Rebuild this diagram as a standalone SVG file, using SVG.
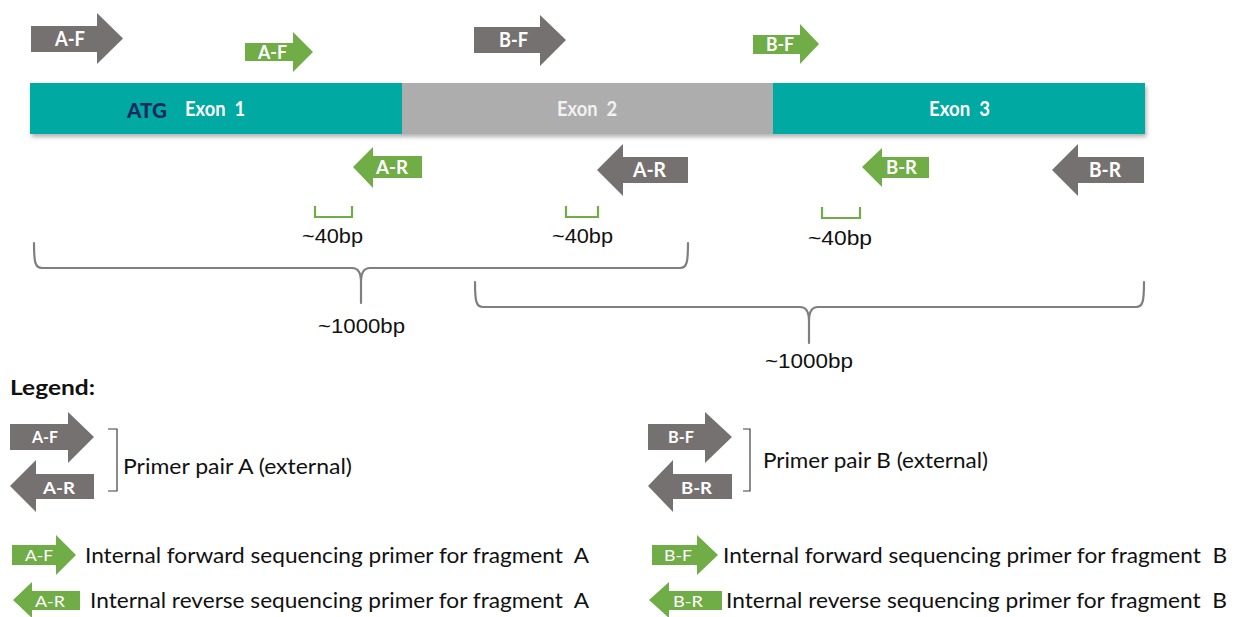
<svg xmlns="http://www.w3.org/2000/svg" width="1238" height="617" viewBox="0 0 1238 617">
  <style>
    .ext { fill: #767171; }
    .int { fill: #70AD47; }
    .lbl { font-family: Lato, "Open Sans", sans-serif; font-weight: bold; fill: #FFFFFF; }
    .lbl-s { font-family: Lato, "Open Sans", sans-serif; fill: #FFFFFF; font-size: 16px; }
    .exon-t { font-family: Lato, "Open Sans", sans-serif; font-weight: bold; font-size: 20px; fill: #FFFFFF; white-space: pre; }
    .bp { font-family: "Liberation Sans", Arial, sans-serif; fill: #111111; }
    .brace { fill: none; stroke: #7F7F7F; stroke-width: 2.2; stroke-linecap: round; }
    .gap { fill: none; stroke: #70AD47; stroke-width: 2.2; }
    .leg { font-family: Lato, "Open Sans", sans-serif; font-size: 21px; fill: #111111; white-space: pre; }
    .pairb { fill: none; stroke: #404040; stroke-width: 1.2; }
  </style>
  <defs>
    <filter id="shadow" x="-5%" y="-30%" width="110%" height="170%">
      <feDropShadow dx="1.5" dy="3" stdDeviation="2" flood-color="#000000" flood-opacity="0.3"/>
    </filter>
  </defs>

  <rect width="1238" height="617" fill="#FFFFFF"/>

  <!-- gene: three exons -->
  <g id="gene" filter="url(#shadow)">
    <rect id="exon1" x="30" y="83" width="372" height="51" fill="#00A9A2"/>
    <rect id="exon2" x="402" y="83" width="371" height="51" fill="#ADADAD"/>
    <rect id="exon3" x="773" y="83" width="372" height="51" fill="#00A9A2"/>
  </g>
  <g id="exon-labels">
    <text x="127" y="118" font-family="Lato, 'Open Sans', sans-serif" font-weight="900" font-size="21" fill="#1B2A5E" textLength="40" lengthAdjust="spacingAndGlyphs">ATG</text>
    <text class="exon-t" x="185" y="116" textLength="60" lengthAdjust="spacingAndGlyphs">Exon  1</text>
    <text class="exon-t" x="557" y="116" textLength="60" lengthAdjust="spacingAndGlyphs" style="fill:#F2F2F2">Exon  2</text>
    <text class="exon-t" x="929" y="116" textLength="61" lengthAdjust="spacingAndGlyphs">Exon  3</text>
  </g>

  <!-- primers on the gene -->
  <g id="primer-AF-ext">
    <polygon class="ext" points="31,26 97,26 97,13 123,38.5 97,64 97,52 31,52"/>
    <text class="lbl" x="55" y="46" font-size="20" textLength="30" lengthAdjust="spacingAndGlyphs">A-F</text>
  </g>
  <g id="primer-AF-int">
    <polygon class="int" points="245,43 293,43 293,32 313,52 293,72 293,61 245,61"/>
    <text class="lbl" x="258" y="59" font-size="19" textLength="29" lengthAdjust="spacingAndGlyphs">A-F</text>
  </g>
  <g id="primer-BF-ext">
    <polygon class="ext" points="474,27 540,27 540,15 566,40 540,66 540,53 474,53"/>
    <text class="lbl" x="499" y="47" font-size="20" textLength="29" lengthAdjust="spacingAndGlyphs">B-F</text>
  </g>
  <g id="primer-BF-int">
    <polygon class="int" points="753,35 800,35 800,24 819,44 800,64 800,54 753,54"/>
    <text class="lbl" x="766" y="51" font-size="19" textLength="28" lengthAdjust="spacingAndGlyphs">B-F</text>
  </g>
  <g id="primer-AR-int">
    <polygon class="int" points="353,167 373,147 373,156 422,156 422,178 373,178 373,188"/>
    <text class="lbl" x="376" y="174" font-size="19" textLength="32" lengthAdjust="spacingAndGlyphs">A-R</text>
  </g>
  <g id="primer-AR-ext">
    <polygon class="ext" points="597,170 623,144 623,157 688,157 688,183 623,183 623,196"/>
    <text class="lbl" x="633" y="177" font-size="20" textLength="33" lengthAdjust="spacingAndGlyphs">A-R</text>
  </g>
  <g id="primer-BR-int">
    <polygon class="int" points="862,167 882,148 882,157 929,157 929,178 882,178 882,187"/>
    <text class="lbl" x="886" y="174" font-size="19" textLength="31" lengthAdjust="spacingAndGlyphs">B-R</text>
  </g>
  <g id="primer-BR-ext">
    <polygon class="ext" points="1052,170 1078,144 1078,157 1144,157 1144,183 1078,183 1078,196"/>
    <text class="lbl" x="1089" y="177" font-size="20" textLength="32" lengthAdjust="spacingAndGlyphs">B-R</text>
  </g>

  <!-- gaps between external and internal primers, and amplicon braces -->
  <g id="connectors">
    <path class="gap" d="M315,206 V217 H352 V206"/>
    <path class="gap" d="M566,206 V217 H598 V206"/>
    <path class="gap" d="M822,207 V218 H860 V207"/>
    <path class="brace" d="M34,243 C34,262 35,268 42,268 H352 C358,268 361,272 361,282 V303 M361,282 C361,272 364,268 370,268 H680 C687,268 688,262 688,243"/>
    <path class="brace" d="M475,282 C475,301 476,307 483,307 H800 C806,307 809,311 809,321 V343 M809,321 C809,311 812,307 818,307 H1136 C1143,307 1144,301 1144,282"/>
  </g>
  <g id="size-labels">
    <text class="bp" x="302" y="243" font-size="20" textLength="61" lengthAdjust="spacingAndGlyphs">~40bp</text>
    <text class="bp" x="552" y="243" font-size="20" textLength="61" lengthAdjust="spacingAndGlyphs">~40bp</text>
    <text class="bp" x="808" y="245" font-size="20" textLength="64" lengthAdjust="spacingAndGlyphs">~40bp</text>
    <text class="bp" x="318" y="333" font-size="21" textLength="87" lengthAdjust="spacingAndGlyphs">~1000bp</text>
    <text class="bp" x="765" y="368" font-size="21" textLength="88" lengthAdjust="spacingAndGlyphs">~1000bp</text>
  </g>

  <!-- legend -->
  <g id="legend">
    <text x="10" y="395" font-family="Lato, 'Open Sans', sans-serif" font-weight="bold" font-size="21" fill="#111111" textLength="85" lengthAdjust="spacingAndGlyphs">Legend:</text>

    <g id="legend-pair-A">
      <polygon class="ext" points="10,424 68,424 68,412 94,437 68,463 68,450 10,450"/>
      <text class="lbl" x="32" y="443" font-size="17" textLength="26" lengthAdjust="spacingAndGlyphs">A-F</text>
      <polygon class="ext" points="10,486 36,460 36,474 94,474 94,499 36,499 36,512"/>
      <text class="lbl" x="43" y="494" font-size="17" textLength="32" lengthAdjust="spacingAndGlyphs">A-R</text>
      <path class="pairb" d="M108,429 H117 V491 H108"/>
      <text class="leg" x="123" y="474" textLength="229" lengthAdjust="spacingAndGlyphs">Primer pair A (external)</text>
    </g>

    <g id="legend-pair-B">
      <polygon class="ext" points="648,424 705,424 705,412 732,437 705,463 705,450 648,450"/>
      <text class="lbl" x="668" y="443" font-size="17" textLength="26" lengthAdjust="spacingAndGlyphs">B-F</text>
      <polygon class="ext" points="648,486 673,460 673,474 732,474 732,499 673,499 673,512"/>
      <text class="lbl" x="681" y="494" font-size="17" textLength="31" lengthAdjust="spacingAndGlyphs">B-R</text>
      <path class="pairb" d="M743,429 H750 V491 H743"/>
      <text class="leg" x="763" y="468" textLength="225" lengthAdjust="spacingAndGlyphs">Primer pair B (external)</text>
    </g>

    <g id="legend-int-AF">
      <polygon class="int" points="12,545 56,545 56,535 76,555 56,575 56,565 12,565"/>
      <text class="lbl-s" x="25" y="561" textLength="28" lengthAdjust="spacingAndGlyphs">A-F</text>
      <text class="leg" x="85" y="563" textLength="504" lengthAdjust="spacingAndGlyphs">Internal forward sequencing primer for fragment  A</text>
    </g>
    <g id="legend-int-AR">
      <polygon class="int" points="13,600 32,582 32,591 80,591 80,610 32,610 32,618"/>
      <text class="lbl-s" x="35" y="607" textLength="30" lengthAdjust="spacingAndGlyphs">A-R</text>
      <text class="leg" x="90" y="608" textLength="499" lengthAdjust="spacingAndGlyphs">Internal reverse sequencing primer for fragment  A</text>
    </g>
    <g id="legend-int-BF">
      <polygon class="int" points="652,545 697,545 697,535 718,555 697,575 697,565 652,565"/>
      <text class="lbl-s" x="664" y="561" textLength="28" lengthAdjust="spacingAndGlyphs">B-F</text>
      <text class="leg" x="723" y="563" textLength="504" lengthAdjust="spacingAndGlyphs">Internal forward sequencing primer for fragment  B</text>
    </g>
    <g id="legend-int-BR">
      <polygon class="int" points="649,600 669,582 669,591 722,591 722,610 669,610 669,618"/>
      <text class="lbl-s" x="673" y="607" textLength="30" lengthAdjust="spacingAndGlyphs">B-R</text>
      <text class="leg" x="726" y="608" textLength="501" lengthAdjust="spacingAndGlyphs">Internal reverse sequencing primer for fragment  B</text>
    </g>
  </g>
</svg>
